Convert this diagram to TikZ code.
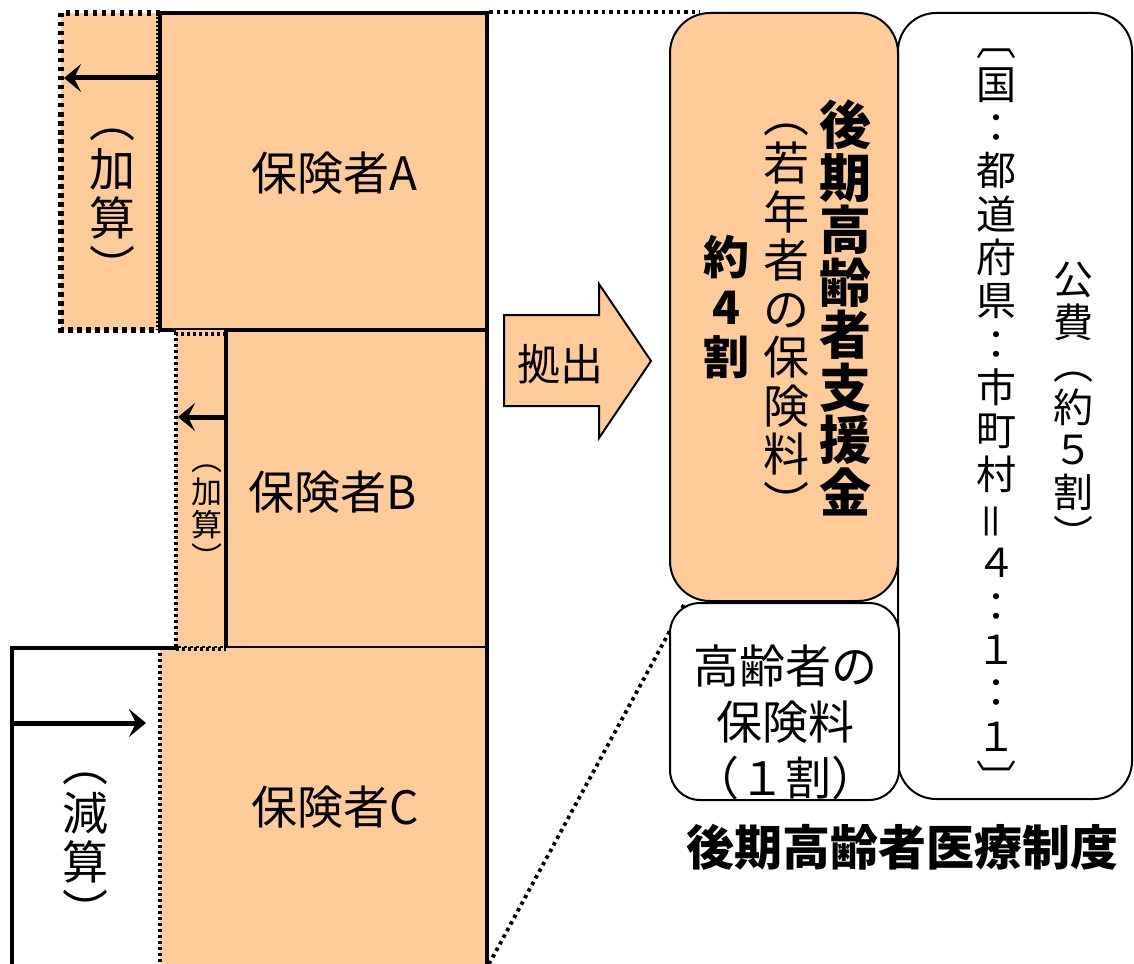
\documentclass[tikz,border=0pt]{standalone}
\usepackage{fontspec}
\setmainfont{Noto Sans CJK JP}
\usepackage{graphicx}
\usetikzlibrary{arrows.meta}
\definecolor{peach}{RGB}{255,204,153}
\newcommand\vs{\vrule width0pt height0.88em depth0.12em}
\newcommand\V[1]{\vs#1\\}
\newcommand\VL[1]{\vs#1}
\newcommand\fs[2]{\fontsize{#1}{#2}\selectfont}
\newcommand\req{\rotatebox[origin=c]{90}{＝}}
\begin{document}
\begin{tikzpicture}[x=1pt,y=-1pt,
  txt/.style={inner sep=0pt, outer sep=0pt, align=center},
  thickbox/.style={line width=4},
  arr/.style={line width=5, -{Stealth[length=17pt,width=28pt,inset=7pt]}},
  rbox/.style={line width=2, rounded corners=#1},
  bigdots/.style={line width=5.5, dash pattern=on 4.5pt off 4.5pt},
  smalldots/.style={line width=3.5, dash pattern=on 3pt off 3pt},
  zoomline/.style={line width=3.8, dash pattern=on 3.5pt off 4pt}]
\useasboundingbox (0,0) rectangle (1134,963);

% ---- insurer A ----
\fill[peach] (61,13) rectangle (160,330);
\draw[bigdots] (160,13) -- (61,13) -- (61,330) -- (160,330);
\draw[line width=1.2, dash pattern=on 2pt off 2pt] (157,13) -- (157,330);
\filldraw[fill=peach, thickbox] (160,13) rectangle (487,330);
\coordinate (aL) at (162,78);
\coordinate (aE) at (64,78);
\draw[arr] (aL) -- (aE);
\node[txt, font=\fs{46}{49}] (addA) at (112,194) {\V{︵}\V{加}\V{算}\VL{︶}};
\node[txt, font=\fs{46}{49}] (insA) at (334,173) {\vs 保険者A};

% ---- insurer B ----
\fill[peach] (176,330) rectangle (226,648);
\draw[smalldots] (226,334) -- (176,334) -- (176,648) -- (226,648);
\filldraw[fill=peach, thickbox] (226,330) rectangle (487,648);
\coordinate (bL) at (226,417);
\coordinate (bE) at (178,417);
\draw[arr] (bL) -- (bE);
\node[txt, font=\fs{31}{33}] (addB) at (207,508) {\V{︵}\V{加}\V{算}\VL{︶}};
\node[txt, font=\fs{46}{49}] (insB) at (333,492) {\vs 保険者B};

% ---- insurer C ----
\fill[peach] (160,648) rectangle (487,980);
\draw[thickbox] (12,980) -- (12,648) -- (176,648);
\draw[thickbox] (487,648) -- (487,980);
\draw[smalldots] (176,649) -- (226,649);
\draw[smalldots] (160,653) -- (160,980);
\coordinate (cL) at (12,723);
\coordinate (cE) at (146,723);
\draw[arr] (cL) -- (cE);
\node[txt, font=\fs{46}{49}] (subC) at (85,838) {\V{︵}\V{減}\V{算}\VL{︶}};
\node[txt, font=\fs{46}{49}] (insC) at (335,807) {\vs 保険者C};

% ---- zoom lines ----
\coordinate (aTR) at (489,12);
\coordinate (zT) at (700,12);
\coordinate (cBR) at (489,964);
\coordinate (zB) at (685,603);
\draw[zoomline] (aTR) -- (zT);
\draw[zoomline] (cBR) -- (zB);

% ---- contribution arrow ----
\draw[fill=peach, line width=2]
  (504,315) -- (599,315) -- (599,284) -- (651,361) -- (599,438) -- (599,406) -- (504,406) -- cycle;
\node[txt, font=\fs{43}{45}] (kyo) at (560,364) {\vs 拠出};

% ---- late-stage elderly system ----
\draw[rbox=38, fill=white] (898,13) rectangle (1132,799);
\draw[rbox=40, fill=peach] (670,13) rectangle (898,601);
\draw[rbox=30, fill=white] (670,603) rectangle (899,800);

\node[txt, font=\fs{52}{52.5}\bfseries] (shien) at (845,308.5)
  {\V{後}\V{期}\V{高}\V{齢}\V{者}\V{支}\V{援}\VL{金}};
\node[txt, font=\fs{46}{48.5}] (jaku) at (786,309)
  {\V{︵}\V{若}\V{年}\V{者}\V{の}\V{保}\V{険}\V{料}\VL{︶}};
\node[txt, font=\fs{46}{50}\bfseries] (yon) at (726,307.5)
  {\V{約}\V{4}\VL{割}};

\node[txt, font=\fs{40}{42.5}] (kohi) at (1073,407)
  {\V{公}\V{費}\V{︵}\V{約}\V{５}\V{割}\VL{︶}};
\node[txt, font=\fs{40}{43.3}] (ratio) at (996,410)
  {\V{︹}\V{国}\V{：}\V{都}\V{道}\V{府}\V{県}\V{：}\V{市}\V{町}\V{村}\V{\req}\V{４}\V{：}\V{１}\V{：}\V{１}\VL{︺}};

\node[txt, font=\fs{46}{56}] (koreisha) at (785,722)
  {\vs 高齢者の\\\vs 保険料\\\vs （１割）};

\node[txt, font=\fs{48}{50}\bfseries] (title) at (902,847) {\vs 後期高齢者医療制度};
\end{tikzpicture}
\end{document}
